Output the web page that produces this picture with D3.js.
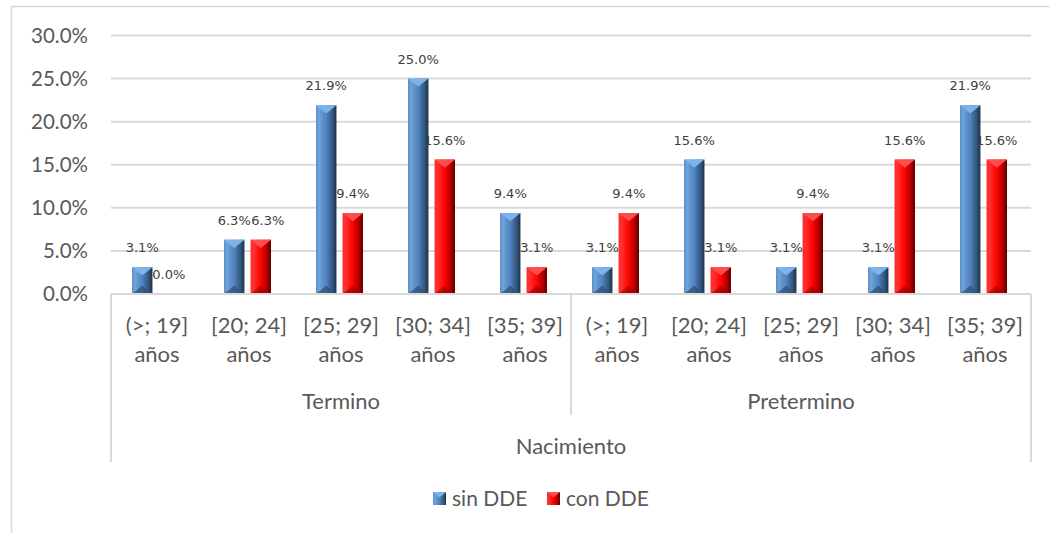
<!DOCTYPE html>
<html><head><meta charset="utf-8">
<script src="https://cdn.jsdelivr.net/npm/d3@7"></script>
<style>
html,body{margin:0;padding:0;background:#fff;}
svg{display:block;}
</style></head>
<body>
<svg id="chart" width="1050" height="533"></svg>
<script>
const groups = ["Termino", "Pretermino"];
const ageLabels = ["(>; 19]", "[20; 24]", "[25; 29]", "[30; 34]", "[35; 39]"];
const ageSuffix = "años";
const outerLabel = "Nacimiento";
const seriesNames = ["sin DDE", "con DDE"];
const sinDDE = [3.1, 6.3, 21.9, 25.0, 9.4, 3.1, 15.6, 3.1, 3.1, 21.9];
const conDDE = [0.0, 6.3, 9.4, 15.6, 3.1, 9.4, 3.1, 9.4, 15.6, 15.6];
const yTicks = [0, 5, 10, 15, 20, 25, 30];

(function() {
const categories = [];
groups.forEach((g, gi) => ageLabels.forEach((a, ai) => categories.push({key: gi * 5 + ai, group: g, age: a})));
const seriesData = [sinDDE, conDDE];

const svg = d3.select("#chart");
const pLeft = 111, pRight = 1031, pTop = 35.5, pBottom = 294;

const defs = svg.append("defs");
function grad(id, stops) {
  const g = defs.append("linearGradient").attr("id", id).attr("x1", "0").attr("x2", "1").attr("y1", "0").attr("y2", "0");
  stops.forEach(s => g.append("stop").attr("offset", s[0]).attr("stop-color", s[1]));
}
grad("gBlue", [[0, "#5b8fc9"], [0.15, "#6fa3db"], [0.5, "#4f81bd"], [0.8, "#34587f"], [1, "#1c3049"]]);
grad("gRed", [[0, "#ff2b2b"], [0.15, "#ff3030"], [0.5, "#ff0000"], [0.8, "#b00000"], [1, "#5a0000"]]);
const fills = ["url(#gBlue)", "url(#gRed)"];
const topCols = ["#7db3ea", "#ff4d4d"];
const botCols = ["#2d4f75", "#a00000"];

// outer frame
svg.append("path").attr("d", `M11.5,533 V6.5 H1050`).attr("fill", "none").attr("stroke", "#d9d9d9").attr("stroke-width", 1.5);

const x0 = d3.scaleBand().domain(categories.map(c => c.key)).range([pLeft, pRight]).paddingInner(0).paddingOuter(0);
const x1 = d3.scaleBand().domain([0, 1]).range([21, 68]).paddingInner(0.23);
const y = d3.scaleLinear().domain([0, 30]).range([pBottom, pTop]);

const labFont = "Lato, 'Open Sans', sans-serif";
const txtCol = "#595959";

// y axis / gridlines
const yAxis = d3.axisLeft(y).tickValues(yTicks).tickFormat(d => d3.format(".1%")(d / 100)).tickSize(0).tickPadding(23);
const gy = svg.append("g").attr("transform", `translate(${pLeft},0)`).call(yAxis);
gy.select(".domain").remove();
gy.selectAll("text").attr("font-family", labFont).attr("font-size", 20.5).attr("fill", txtCol);
svg.append("g").selectAll("line").data(yTicks.filter(t => t > 0)).join("line")
  .attr("x1", pLeft).attr("x2", pRight).attr("y1", d => y(d)).attr("y2", d => y(d))
  .attr("stroke", "#d9d9d9").attr("stroke-width", 2);

// bars
const catG = svg.append("g").selectAll("g").data(categories).join("g")
  .attr("transform", c => `translate(${x0(c.key)},0)`);
[0, 1].forEach(si => {
  catG.each(function(c) {
    const v = seriesData[si][c.key];
    if (v <= 0) return;
    const g = d3.select(this);
    const bx = x1(si), bw = x1.bandwidth();
    const by = y(v), bh = y(0) - y(v);
    g.append("rect").attr("x", bx).attr("y", by).attr("width", bw).attr("height", bh).attr("fill", fills[si]);
    const th = Math.min(bw * 0.4, bh / 2);
    g.append("path").attr("d", `M${bx},${by} L${bx + bw},${by} L${bx + bw / 2},${by + th} Z`).attr("fill", topCols[si]);
    g.append("path").attr("d", `M${bx},${by + bh} L${bx + bw},${by + bh} L${bx + bw / 2},${by + bh - th} Z`).attr("fill", botCols[si]).attr("opacity", 0.7);
    g.append("line").attr("x1", bx + bw / 2).attr("x2", bx + bw / 2).attr("y1", by + th).attr("y2", by + bh - th).attr("stroke", si === 0 ? "#6a9ed6" : "#ff2020").attr("stroke-width", 0.6).attr("opacity", 0.5);
  });
});

// data labels (second label nudged right when it collides with the first)
const lblSize = 13;
[0, 1].forEach(si => {
  catG.append("text")
    .attr("x", c => {
      let cx = x1(si) + x1.bandwidth() / 2;
      if (si === 1 && Math.abs(y(seriesData[0][c.key]) - y(seriesData[1][c.key])) < 14) {
        cx += 7;
      }
      return cx;
    })
    .attr("y", c => y(seriesData[si][c.key]) - 15)
    .attr("text-anchor", "middle")
    .attr("font-family", "'DejaVu Sans', sans-serif").attr("font-size", lblSize)
    .attr("fill", "#404040")
    .text(c => d3.format(".1%")(seriesData[si][c.key] / 100));
});

// x axis line
svg.append("line").attr("x1", pLeft).attr("x2", pRight).attr("y1", pBottom).attr("y2", pBottom).attr("stroke", "#d9d9d9").attr("stroke-width", 2);
// separators
const sepX = [pLeft, x0(5), pRight];
const sepB = [462, 415, 462];
svg.append("g").selectAll("line").data(sepX).join("line")
  .attr("x1", d => d).attr("x2", d => d).attr("y1", pBottom).attr("y2", (d, i) => sepB[i])
  .attr("stroke", "#d9d9d9").attr("stroke-width", 2);

const catLab = svg.append("g").selectAll("text").data(categories).join("text")
  .attr("x", c => x0(c.key) + x0.bandwidth() / 2)
  .attr("text-anchor", "middle").attr("font-family", labFont).attr("font-size", 22).attr("fill", txtCol);
catLab.append("tspan").attr("x", c => x0(c.key) + x0.bandwidth() / 2).attr("y", 333).text(c => c.age);
catLab.append("tspan").attr("x", c => x0(c.key) + x0.bandwidth() / 2).attr("y", 362).text(ageSuffix);

svg.append("g").selectAll("text").data(groups).join("text")
  .attr("x", (g, i) => (x0(i * 5) + x0(i * 5 + 4) + x0.bandwidth()) / 2)
  .attr("y", 409).attr("text-anchor", "middle").attr("font-family", labFont).attr("font-size", 22).attr("fill", txtCol)
  .text(d => d);
svg.append("text").attr("x", (pLeft + pRight) / 2).attr("y", 454).attr("text-anchor", "middle")
  .attr("font-family", labFont).attr("font-size", 22).attr("fill", txtCol).text(outerLabel);

// legend
const legX = [433, 547];
const lg = svg.append("g").selectAll("g").data(seriesNames).join("g").attr("transform", (d, i) => `translate(${legX[i]},492)`);
lg.append("rect").attr("width", 13).attr("height", 13).attr("fill", (d, i) => fills[i]);
lg.append("path").attr("d", "M0,0 L13,0 L6.5,5.5 Z").attr("fill", (d, i) => topCols[i]);
lg.append("text").attr("x", 19).attr("y", 14).attr("font-family", labFont).attr("font-size", 21).attr("fill", txtCol).text(d => d);
})();
</script>
</body></html>
